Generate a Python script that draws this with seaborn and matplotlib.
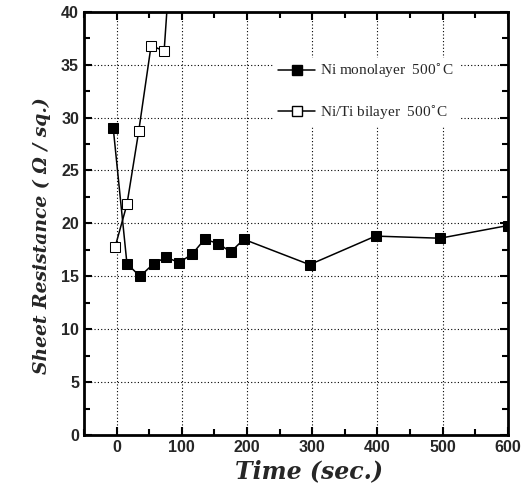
import matplotlib
matplotlib.use("Agg")
import matplotlib.pyplot as plt
import seaborn as sns
import pandas as pd
from matplotlib.ticker import MultipleLocator
from matplotlib.lines import Line2D

# Data
mono_time = [-5, 16, 36, 57, 76, 96, 116, 135, 156, 175, 195, 296, 397, 496, 600]
mono_rs = [29.0, 16.2, 15.0, 16.2, 16.8, 16.3, 17.1, 18.5, 18.1, 17.3, 18.5, 16.1, 18.8, 18.6, 19.8]
bi_time = [-2, 16, 34, 53, 73, 95]
bi_rs = [17.8, 21.8, 28.7, 36.8, 36.3, 56.0]
labels = ["Ni monolayer  500$^{\\circ}$C", "Ni/Ti bilayer  500$^{\\circ}$C"]

df = pd.concat([
    pd.DataFrame({"t": mono_time, "r": mono_rs, "s": labels[0]}),
    pd.DataFrame({"t": bi_time, "r": bi_rs, "s": labels[1]}),
])

sns.set_theme(style="ticks")
plt.rcParams["font.family"] = ["Liberation Serif", "DejaVu Serif"]

fig = plt.figure(figsize=(5.21, 4.91), dpi=100)
ax = fig.add_axes([0.161, 0.114, 0.814, 0.862])

sns.lineplot(data=df, x="t", y="r", hue="s", style="s",
             palette={labels[0]: "black", labels[1]: "black"},
             markers={labels[0]: "s", labels[1]: "s"}, dashes=False,
             sort=False, ax=ax, linewidth=1.1, markersize=6.5, legend=False)
lines = ax.get_lines()
lines[0].set_markerfacecolor("black")
lines[0].set_markeredgecolor("black")
lines[1].set_markerfacecolor("white")
lines[1].set_markeredgecolor("black")

ax.set_xlim(-50, 600)
ax.set_ylim(0, 40)
ax.xaxis.set_major_locator(MultipleLocator(100))
ax.xaxis.set_minor_locator(MultipleLocator(50))
ax.yaxis.set_major_locator(MultipleLocator(5))
ax.yaxis.set_minor_locator(MultipleLocator(2.5))
ax.grid(True, which="major", linestyle=(0, (1, 2)), color="black", linewidth=0.8)
ax.tick_params(which="both", direction="in", top=True, right=True, width=1.5, color="black")
ax.tick_params(which="major", length=6, labelsize=11.5)
ax.tick_params(which="minor", length=4)
for lbl in ax.get_xticklabels() + ax.get_yticklabels():
    lbl.set_fontfamily("Liberation Sans")
    lbl.set_fontweight("bold")
for sp in ax.spines.values():
    sp.set_linewidth(2)
    sp.set_color("black")

ax.set_xlabel("Time (sec.)", fontsize=17, fontweight="bold", fontstyle="italic",
              family="DejaVu Serif")
ax.xaxis.set_label_coords(0.53, -0.058)
ax.set_ylabel("Sheet Resistance ( Ω / sq.)", fontsize=13.5, fontweight="bold", fontstyle="italic",
              family="DejaVu Serif")
ax.yaxis.set_label_coords(-0.078, 0.47)

handles = [Line2D([], [], color="black", marker="s", markerfacecolor="black", markersize=6.5, linewidth=1.1),
           Line2D([], [], color="black", marker="s", markerfacecolor="white", markersize=6.5, linewidth=1.1)]
leg = ax.legend(handles, labels, loc="upper left", bbox_to_anchor=(0.43, 0.91), frameon=True,
                framealpha=1, edgecolor="white", facecolor="white", fontsize=11,
                labelspacing=1.5, handlelength=2.4, handletextpad=0.3, borderpad=0.3)

fig.savefig("out.png", dpi=100)
